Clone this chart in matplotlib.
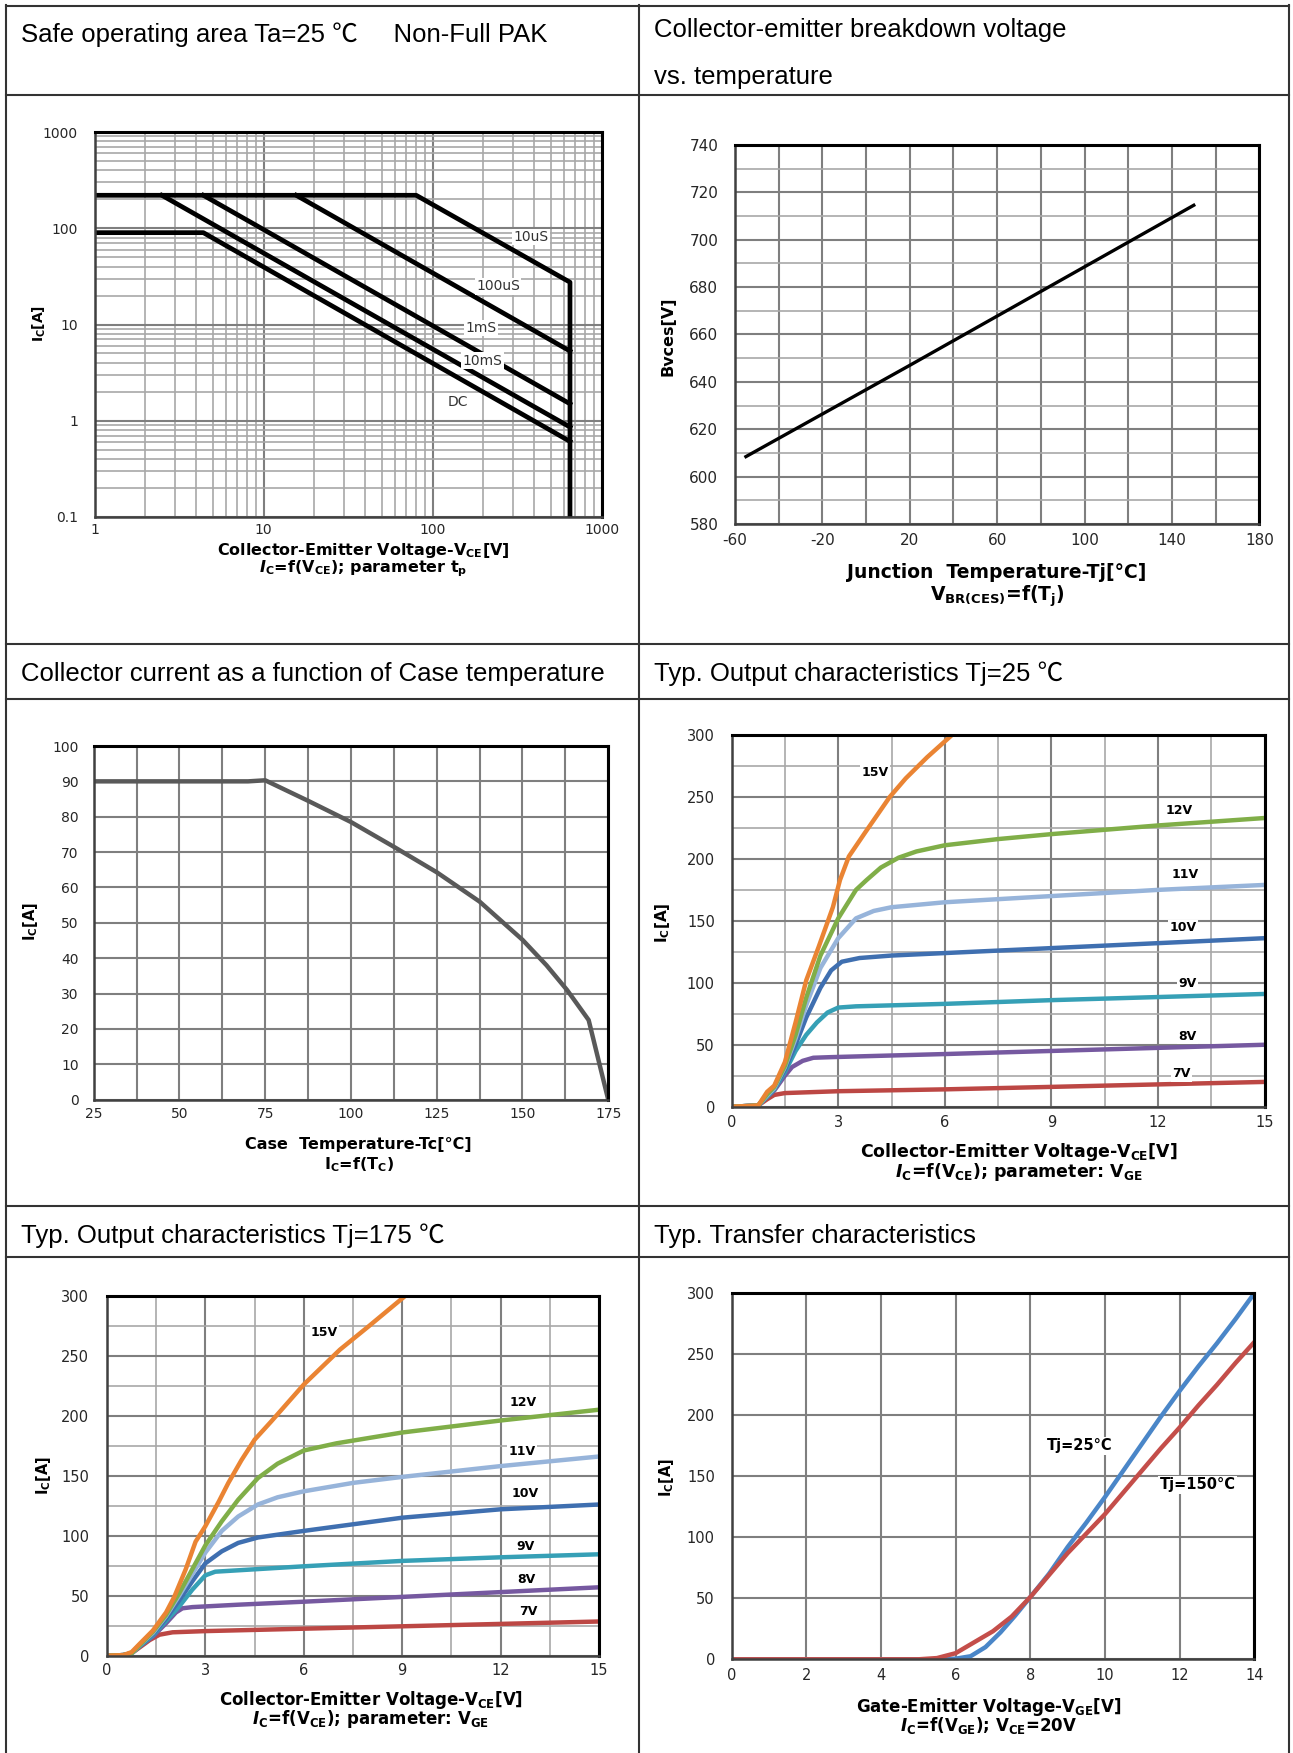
import matplotlib
matplotlib.use("Agg")
import matplotlib.pyplot as plt
from matplotlib.ticker import MultipleLocator, LogLocator, FixedLocator, NullFormatter

plt.rcParams['font.family'] = ['DejaVu Sans']
plt.rcParams['axes.unicode_minus'] = False
plt.rcParams['mathtext.fontset'] = 'custom'
plt.rcParams['mathtext.rm'] = 'DejaVu Sans'
plt.rcParams['mathtext.it'] = 'DejaVu Sans:italic:bold'
plt.rcParams['mathtext.bf'] = 'DejaVu Sans:bold'

W, H = 1293, 1753
HEAD = ['Liberation Sans', 'Noto Sans CJK SC', 'DejaVu Sans']

# ---- safe operating area (log-log) ----
soa_10us_v = [1, 80, 650, 650]
soa_10us_i = [220, 220, 27.5, 0.1]
soa_100us_v = [15.6, 650]
soa_100us_i = [220, 5.3]
soa_1ms_v = [4.4, 650]
soa_1ms_i = [220, 1.5]
soa_10ms_v = [2.5, 650]
soa_10ms_i = [220, 0.86]
soa_dc_v = [1, 4.4, 650]
soa_dc_i = [90, 90, 0.61]
soa_labels = ["10uS", "100uS", "1mS", "10mS", "DC"]
soa_label_v = [382, 244, 194, 197, 142]
soa_label_i = [81, 25, 9.2, 4.2, 1.55]

# ---- breakdown voltage vs Tj ----
bv_t = [-55, 20, 150]
bv_v = [608.5, 647, 714.5]
bv_xticks = [-60, -20, 20, 60, 100, 140, 180]

# ---- Ic vs case temperature ----
tc_t = [25, 50, 70, 75, 87.5, 100, 112.5, 125, 137.5, 150, 157, 163, 169.3, 175]
tc_i = [90, 90, 90, 90.3, 84.5, 78.5, 71.5, 64.3, 56, 45.2, 38, 31, 22.5, 0]

# ---- output characteristics Tj=25 ----
out25 = {
    "15V": ([0, 0.4, 0.75, 1.0, 1.2, 1.5, 1.8, 2.1, 2.45, 2.85, 3.05, 3.3, 3.75, 4.45, 4.9, 5.5, 6.2],
            [0, 0.5, 1, 12, 17, 36, 68, 102, 129, 161, 183, 202, 221, 250, 265, 282, 300]),
    "12V": ([0, 0.4, 0.75, 1.0, 1.2, 1.5, 1.8, 2.1, 2.5, 3.0, 3.5, 3.8, 4.2, 4.7, 5.2, 6.0, 7.5, 9, 12, 15],
            [0, 0.5, 1, 10, 16, 33, 58, 88, 122, 152, 175, 183, 193, 201, 206, 211, 216, 220, 227, 233]),
    "11V": ([0, 0.4, 0.75, 1.0, 1.2, 1.5, 1.8, 2.1, 2.5, 3.0, 3.5, 4.0, 4.5, 6, 9, 12, 15],
            [0, 0.5, 1, 9, 15, 32, 55, 82, 112, 136, 152, 158, 161, 165, 170, 175, 179]),
    "10V": ([0, 0.4, 0.75, 1.0, 1.2, 1.5, 1.8, 2.1, 2.5, 2.8, 3.1, 3.6, 4.5, 6, 9, 12, 15],
            [0, 0.5, 1, 9, 15, 30, 50, 72, 96, 110, 117, 120, 122, 124, 128, 132, 136]),
    "9V": ([0, 0.4, 0.75, 1.0, 1.2, 1.5, 1.8, 2.1, 2.4, 2.7, 3.0, 3.5, 6, 9, 12, 15],
           [0, 0.5, 1, 8, 14, 28, 45, 58, 68, 76, 80, 81, 83, 86, 88.5, 91]),
    "8V": ([0, 0.4, 0.75, 1.0, 1.2, 1.5, 1.7, 2.0, 2.3, 2.8, 6, 9, 12, 15],
           [0, 0.5, 1, 8, 13, 25, 32, 37, 39.5, 40, 42.5, 45, 47.5, 50]),
    "7V": ([0, 0.4, 0.75, 1.0, 1.2, 1.5, 3, 6, 9, 12, 15],
           [0, 0.5, 1, 6, 9.5, 11, 12.5, 14, 16, 18, 20]),
}
out25_lab_v = [4.04, 12.6, 12.77, 12.71, 12.83, 12.83, 12.66]
out25_lab_i = [269.6, 239.4, 187.8, 144.5, 99.5, 57, 26.4]

# ---- output characteristics Tj=175 ----
out175 = {
    "15V": ([0, 0.5, 0.75, 1.0, 1.4, 1.8, 2.05, 2.4, 2.7, 3.0, 3.4, 3.7, 4.1, 4.5, 5.0, 6.0, 7.1, 8.0, 9.1],
            [0, 0.5, 3, 10, 21, 36, 49, 72, 95, 108, 128, 144, 163, 180, 195, 226, 255, 275, 300]),
    "12V": ([0, 0.5, 0.75, 1.0, 1.4, 1.8, 2.2, 2.6, 3.0, 3.5, 4.0, 4.6, 5.2, 6.0, 7.0, 9.0, 12, 15],
            [0, 0.5, 2, 9, 20, 34, 52, 72, 92, 112, 130, 148, 160, 171, 177, 186, 196, 205]),
    "11V": ([0, 0.5, 0.75, 1.0, 1.4, 1.8, 2.2, 2.6, 3.0, 3.5, 4.0, 4.6, 5.2, 6.0, 7.5, 9, 12, 15],
            [0, 0.5, 2, 9, 19, 33, 50, 68, 86, 104, 116, 126, 132, 137, 144, 149, 158, 166]),
    "10V": ([0, 0.5, 0.75, 1.0, 1.4, 1.8, 2.2, 2.6, 3.0, 3.5, 4.0, 4.6, 6, 9, 12, 15],
            [0, 0.5, 2, 9, 18, 31, 46, 62, 77, 87, 94, 98.5, 104, 115, 122, 126]),
    "9V": ([0, 0.5, 0.75, 1.0, 1.4, 1.8, 2.2, 2.6, 3.0, 3.3, 4.5, 6, 9, 12, 15],
           [0, 0.5, 2, 8, 17, 29, 41, 55, 67, 70, 72, 74.5, 79, 82, 84.5]),
    "8V": ([0, 0.5, 0.75, 1.0, 1.4, 1.8, 2.1, 2.3, 2.6, 4, 6, 9, 12, 15],
           [0, 0.5, 2, 8, 16, 27, 36, 39.5, 40.5, 42.5, 45, 49, 53, 57]),
    "7V": ([0, 0.5, 0.75, 1.0, 1.3, 1.6, 2.0, 3.0, 6, 9, 12, 15],
           [0, 0.5, 2, 7, 13, 17.5, 19.5, 20.5, 22.5, 24.5, 26.5, 28.5]),
}
out175_lab_v = [6.63, 12.69, 12.66, 12.76, 12.76, 12.79, 12.85]
out175_lab_i = [269.7, 211, 170, 135, 91.4, 63.9, 36.7]

curve_colors = {"15V": "#EA8433", "12V": "#80AE48", "11V": "#97B4DA", "10V": "#3F6FB0",
                "9V": "#36A0B6", "8V": "#7659A0", "7V": "#BC4744"}

# ---- transfer characteristics ----
tr_v25 = [0, 5.5, 6.0, 6.4, 6.8, 7.2, 7.6, 8.0, 8.5, 9.0, 9.5, 10.0, 10.5, 11.0, 11.5, 12.0, 12.5, 13.0, 13.5, 14.0]
tr_i25 = [0, 0, 0.5, 2.5, 10, 22, 36, 51, 70, 92, 112, 133, 155, 177, 199, 220, 240, 259, 279, 300]
tr_v150 = [0, 5.0, 5.5, 6.0, 6.5, 7.0, 7.5, 8.0, 8.5, 9.0, 9.5, 10.0, 10.5, 11.0, 11.5, 12.0, 12.5, 13.0, 13.5, 14.0]
tr_i150 = [0, 0, 1, 5, 14, 23, 35, 51, 69, 87, 103, 119, 137, 155, 173, 190, 208, 225, 243, 260]


def box(x0, y0, x1, y1):
    return [x0 / W, 1 - y1 / H, (x1 - x0) / W, (y1 - y0) / H]


def style(ax, fs, xpad, ypad, mgrid=True):
    ax.set_axisbelow(True)
    ax.grid(which='major', color='#7f7f7f', lw=1.5)
    if mgrid:
        ax.grid(which='minor', color='#a8a8a8', lw=1.2)
    ax.tick_params(which='both', length=0, labelsize=fs, labelcolor='#262626')
    ax.tick_params(axis='x', pad=xpad)
    ax.tick_params(axis='y', pad=ypad)
    for s in ['top', 'right']:
        ax.spines[s].set_color('black')
        ax.spines[s].set_linewidth(2.2)
    for s in ['left', 'bottom']:
        ax.spines[s].set_color('#404040')
        ax.spines[s].set_linewidth(1.8)


fig = plt.figure(figsize=(W / 100, H / 100), dpi=100)
ax0 = fig.add_axes([0, 0, 1, 1])
ax0.set_xlim(0, W)
ax0.set_ylim(H, 0)
ax0.axis('off')

# table
lc = '#333333'
for x in [6, 639, 1289]:
    ax0.plot([x, x], [5, H], color=lc, lw=1.5)
for y in [5.5, 95, 644, 699, 1206, 1257]:
    ax0.plot([6, 1289], [y, y], color=lc, lw=1.5)

hs = 18.5
ax0.text(21, 42, "Safe operating area Ta=25 ℃     Non-Full PAK", family=HEAD, fontsize=hs, va='baseline')
ax0.text(654, 36.5, "Collector-emitter breakdown voltage", family=HEAD, fontsize=hs, va='baseline')
ax0.text(654, 83.5, "vs. temperature", family=HEAD, fontsize=hs, va='baseline')
ax0.text(21, 681, "Collector current as a function of Case temperature", family=HEAD, fontsize=hs, va='baseline')
ax0.text(654, 681, "Typ. Output characteristics Tj=25 ℃", family=HEAD, fontsize=hs, va='baseline')
ax0.text(21, 1243, "Typ. Output characteristics Tj=175 ℃", family=HEAD, fontsize=hs, va='baseline')
ax0.text(654, 1243, "Typ. Transfer characteristics", family=HEAD, fontsize=hs, va='baseline')

lab_box = dict(facecolor='white', edgecolor='none', pad=1.0)

# ---- panel 1: SOA ----
ax1 = fig.add_axes(box(94.6, 132, 601.6, 517))
ax1.set_xscale('log')
ax1.set_yscale('log')
ax1.set_xlim(1, 1000)
ax1.set_ylim(0.1, 1000)
ax1.xaxis.set_major_locator(FixedLocator([1, 10, 100, 1000]))
ax1.set_xticklabels(["1", "10", "100", "1000"])
ax1.yaxis.set_major_locator(FixedLocator([0.1, 1, 10, 100, 1000]))
ax1.set_yticklabels(["0.1", "1", "10", "100", "1000"])
ax1.xaxis.set_minor_locator(LogLocator(base=10, subs=range(2, 10)))
ax1.yaxis.set_minor_locator(LogLocator(base=10, subs=range(2, 10)))
ax1.xaxis.set_minor_formatter(NullFormatter())
ax1.yaxis.set_minor_formatter(NullFormatter())
style(ax1, 10, 4.4, 12)
for v, i in [(soa_10us_v, soa_10us_i), (soa_100us_v, soa_100us_i), (soa_1ms_v, soa_1ms_i),
             (soa_10ms_v, soa_10ms_i), (soa_dc_v, soa_dc_i)]:
    ax1.plot(v, i, color='black', lw=3.4)
for t, v, i in zip(soa_labels, soa_label_v, soa_label_i):
    ax1.text(v, i, t, fontsize=10, color='#333333', ha='center', va='center', bbox=lab_box)
ax0.text(363, 551, "Collector-Emitter Voltage-V$_{\\mathregular{CE}}$[V]", fontsize=11.5, weight='bold', ha='center', va='center')
ax0.text(363, 569, "$I$$_{\\mathregular{C}}$=f(V$_{\\mathregular{CE}}$); parameter t$_{\\mathregular{p}}$", fontsize=11.5, weight='bold', ha='center', va='center')
ax0.text(39, 323, "I$_{\\mathregular{C}}$[A]", fontsize=10, weight='bold', ha='center', va='center', rotation=90)

# ---- panel 2: breakdown voltage ----
ax2 = fig.add_axes(box(735, 144.8, 1259.3, 524.2))
ax2.set_xlim(-60, 180)
ax2.set_ylim(580, 740)
ax2.xaxis.set_major_locator(FixedLocator(bv_xticks))
ax2.xaxis.set_minor_locator(MultipleLocator(20))
ax2.yaxis.set_major_locator(MultipleLocator(20))
ax2.yaxis.set_minor_locator(MultipleLocator(10))
style(ax2, 11, 6.5, 12)
ax2.grid(which='minor', axis='x', color='#7f7f7f', lw=1.5)
ax2.plot(bv_t, bv_v, color='black', lw=2.4)
ax0.text(997, 572, "Junction  Temperature-Tj[°C]", fontsize=13.5, weight='bold', ha='center', va='center')
ax0.text(997, 596, "V$_{\\mathregular{BR(CES)}}$=f(T$_{\\mathregular{j}}$)", fontsize=13.5, weight='bold', ha='center', va='center')
ax0.text(668, 336, "Bvces[V]", fontsize=11.5, weight='bold', ha='center', va='center', rotation=90)

# ---- panel 3: Ic vs Tc ----
ax3 = fig.add_axes(box(93.7, 746, 608.2, 1099.6))
ax3.set_xlim(25, 175)
ax3.set_ylim(0, 100)
ax3.xaxis.set_major_locator(MultipleLocator(25))
ax3.xaxis.set_minor_locator(MultipleLocator(12.5))
ax3.yaxis.set_major_locator(MultipleLocator(10))
style(ax3, 10, 5, 10.7)
ax3.grid(which='minor', axis='x', color='#7f7f7f', lw=1.5)
ax3.plot(tc_t, tc_i, color='#595959', lw=3.2)
ax0.text(358.6, 1144.3, "Case  Temperature-Tc[°C]", fontsize=11.5, weight='bold', ha='center', va='center')
ax0.text(358.6, 1164.3, "I$_{\\mathregular{C}}$=f(T$_{\\mathregular{C}}$)", fontsize=11.5, weight='bold', ha='center', va='center')
ax0.text(31, 922, "I$_{\\mathregular{C}}$[A]", fontsize=10.5, weight='bold', ha='center', va='center', rotation=90)


# ---- panels 4 and 5: output characteristics ----
def output_panel(rect, curves, lab_v, lab_i):
    ax = fig.add_axes(rect)
    ax.set_xlim(0, 15)
    ax.set_ylim(0, 300)
    ax.xaxis.set_major_locator(MultipleLocator(3))
    ax.xaxis.set_minor_locator(MultipleLocator(1.5))
    ax.yaxis.set_major_locator(MultipleLocator(50))
    ax.yaxis.set_minor_locator(MultipleLocator(25))
    for name in ["7V", "8V", "9V", "10V", "11V", "12V", "15V"]:
        v, i = curves[name]
        ax.plot(v, i, color=curve_colors[name], lw=3.2, solid_capstyle='round', clip_on=True)
    for name, v, i in zip(["15V", "12V", "11V", "10V", "9V", "8V", "7V"], lab_v, lab_i):
        ax.text(v, i, name, fontsize=9, weight='bold', ha='center', va='center', bbox=lab_box)
    return ax


ax4 = output_panel(box(731.6, 735, 1264.7, 1106.7), out25, out25_lab_v, out25_lab_i)
style(ax4, 10.5, 6, 12)
ax0.text(1019, 1151.7, "Collector-Emitter Voltage-V$_{\\mathregular{CE}}$[V]", fontsize=12.5, weight='bold', ha='center', va='center')
ax0.text(1019, 1171.7, "$I$$_{\\mathregular{C}}$=f(V$_{\\mathregular{CE}}$); parameter: V$_{\\mathregular{GE}}$", fontsize=12.5, weight='bold', ha='center', va='center')
ax0.text(663, 922.5, "I$_{\\mathregular{C}}$[A]", fontsize=11, weight='bold', ha='center', va='center', rotation=90)

ax5 = output_panel(box(107, 1295.7, 599, 1655.7), out175, out175_lab_v, out175_lab_i)
style(ax5, 10.5, 5.6, 13)
ax0.text(370.6, 1700, "Collector-Emitter Voltage-V$_{\\mathregular{CE}}$[V]", fontsize=12, weight='bold', ha='center', va='center')
ax0.text(370.6, 1719.3, "$I$$_{\\mathregular{C}}$=f(V$_{\\mathregular{CE}}$); parameter: V$_{\\mathregular{GE}}$", fontsize=12, weight='bold', ha='center', va='center')
ax0.text(43.5, 1476, "I$_{\\mathregular{C}}$[A]", fontsize=10.5, weight='bold', ha='center', va='center', rotation=90)

# ---- panel 6: transfer characteristics ----
ax6 = fig.add_axes(box(731.6, 1293.3, 1254.3, 1659.3))
ax6.set_xlim(0, 14)
ax6.set_ylim(0, 300)
ax6.xaxis.set_major_locator(MultipleLocator(2))
ax6.yaxis.set_major_locator(MultipleLocator(50))
style(ax6, 10.5, 6.1, 12, mgrid=False)
ax6.plot(tr_v25, tr_i25, color='#4A86C8', lw=3.2)
ax6.plot(tr_v150, tr_i150, color='#C44E4A', lw=3.2)
ax6.text(9.31, 174.9, "Tj=25°C", fontsize=10.5, weight='bold', ha='center', va='center', bbox=lab_box)
ax6.text(12.49, 143, "Tj=150°C", fontsize=10.5, weight='bold', ha='center', va='center', bbox=lab_box)
ax0.text(988.4, 1706.5, "Gate-Emitter Voltage-V$_{\\mathregular{GE}}$[V]", fontsize=12, weight='bold', ha='center', va='center')
ax0.text(988.4, 1726, "$I$$_{\\mathregular{C}}$=f(V$_{\\mathregular{GE}}$); V$_{\\mathregular{CE}}$=20V", fontsize=12, weight='bold', ha='center', va='center')
ax0.text(667, 1477.5, "I$_{\\mathregular{C}}$[A]", fontsize=10.5, weight='bold', ha='center', va='center', rotation=90)

fig.savefig("out.png", dpi=100, facecolor='white')
